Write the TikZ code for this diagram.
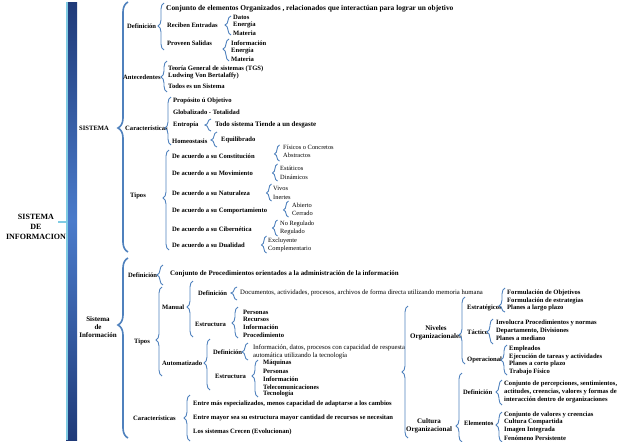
\documentclass[tikz,border=0pt]{standalone}
\usepackage{fontspec}
\setmainfont{Liberation Serif}
\usetikzlibrary{decorations.pathreplacing}
\definecolor{brcblue}{HTML}{4F81BD}
\definecolor{barnavy}{HTML}{1F3A78}
\definecolor{barmid}{HTML}{4A7BCB}
\definecolor{barcyan}{HTML}{7FCBE3}
% brace: hook x, top y, bottom y, tip y (picture units)
\newcommand{\grp}[5][]{%
  \pgfmathsetmacro{\grpasp}{(#4-#5)/(#4-#3)}%
  \draw[brc,decoration={aspect=\grpasp},#1] (#2,#4) -- (#2,#3);}

\begin{document}
\begin{tikzpicture}[x=1pt,y=-1pt,
  brc/.style={draw=brcblue,line width=0.9pt,decorate,decoration={brace,amplitude=6pt}},
  bigbrc/.style={line width=1.6pt,decoration={amplitude=10pt}},
  lbl/.style={anchor=west,inner sep=0pt,font=\fontsize{#1}{8}\selectfont\bfseries},lbl/.default=6.6,
  txt/.style={anchor=west,inner sep=0pt,font=\fontsize{#1}{8}\selectfont},txt/.default=6.4,
  hd/.style={inner sep=0pt,align=center,font=\fontsize{7}{8}\selectfont\bfseries}]
\useasboundingbox (0,0) rectangle (638,442);

% main bar
\shade[top color=barnavy,bottom color=barnavy,middle color=barmid] (66,2) rectangle (77,440);
\fill[barcyan] (66,2) rectangle (67.8,440);
\coordinate (bartip) at (66,222);
\node[hd,font=\fontsize{8}{10}\selectfont\bfseries] (sdi) at (36,227) {SISTEMA\\DE\\INFORMACION};
\draw[barcyan,line width=2pt] (bartip) -- ++(-8,0);

%%% SISTEMA
\node[lbl] (sis) at (79,128) {SISTEMA};
\grp[bigbrc]{128}{2}{252}{128}

\node[lbl] (def1) at (127,26) {Definición};
\grp{164}{3}{50}{26}
\node[lbl=7.4] (conj) at (166,9) {Conjunto de elementos Organizados , relacionados que interactúan para lograr un objetivo};
\node[lbl] (rec) at (167,25) {Reciben Entradas};
\grp{231}{16}{35}{25}
\foreach \y/\t [count=\i] in {17/Datos,25/Energía,33/Materia}
  \node[lbl] (ent\i) at (233,\y) {\t};
\node[lbl] (prov) at (167,43) {Proveen Salidas};
\grp{229}{39}{61}{49}
\foreach \y/\t [count=\i] in {43/Información,51/Energía,59/Materia}
  \node[lbl] (sal\i) at (231,\y) {\t};

\node[lbl] (ant) at (123,77) {Antecedentes};
\grp{167}{61}{92}{77}
\foreach \y/\t [count=\i] in {69/Teoría General de sistemas (TGS),76/Ludwing Von Bertalaffy),86/Todos es un Sistema}
  \node[lbl] (ant\i) at (168,\y) {\t};

\node[lbl] (car) at (125,128) {Características};
\grp{171}{97}{145}{128}
\node[lbl] (car1) at (173,101) {Propósito ú Objetivo};
\node[lbl] (car2) at (173,112) {Globalizado - Totalidad};
\node[lbl] (car3) at (173,125) {Entropía};
\grp{211}{119}{131}{125}
\node[lbl=6.9] (desg) at (215,125) {Todo sistema Tiende a un desgaste};
\node[lbl] (car4) at (172,141) {Homeostasis};
\grp{217}{132}{147}{140}
\node[lbl] (equi) at (221,140) {Equilibrado};

\node[lbl] (tip) at (130,196) {Tipos};
\grp{169}{150}{250}{198}
\foreach \y/\t [count=\i] in {156/Constitución,173/Movimiento,193/Naturaleza,211/Comportamiento,229/Cibernética,245/Dualidad}
  \node[lbl] (tip\i) at (172,\y) {De acuerdo a su \t};
\grp[decoration={amplitude=5pt}]{279.5}{145}{161}{154}
\node[txt] (cons1) at (283,147) {Físicos o Concretos};
\node[txt] (cons2) at (283,155) {Abstractos};
\grp[decoration={amplitude=5pt}]{277.5}{164}{181}{173}
\node[txt] (mov1) at (280,168) {Estáticos};
\node[txt] (mov2) at (280,177) {Dinámicos};
\grp[decoration={amplitude=5pt}]{271.5}{184}{201}{193}
\node[txt] (nat1) at (273,188) {Vivos};
\node[txt] (nat2) at (273,197) {Inertes};
\grp[decoration={amplitude=5pt}]{288.5}{201}{217}{210}
\node[txt] (comp1) at (292,205) {Abierto};
\node[txt] (comp2) at (292,213) {Cerrado};
\grp[decoration={amplitude=5pt}]{277.5}{220}{236}{228}
\node[txt] (cib1) at (280,224) {No Regulado};
\node[txt] (cib2) at (280,232) {Regulado};
\grp[decoration={amplitude=5pt}]{266.5}{236}{253}{245}
\node[txt] (dual1) at (268,241) {Excluyente};
\node[txt] (dual2) at (268,249) {Complementario};

%%% Sistema de Informacion
\node[hd] (sdi2) at (98,327) {Sistema\\de\\Información};
\grp[bigbrc]{128}{258}{438}{325}

\node[lbl] (def2) at (128,275) {Definición};
\grp{163}{265}{285}{275}
\node[lbl=6.9] (proc) at (170,274) {Conjunto de Procedimientos orientados a la administración de la información};

\node[lbl] (tip2) at (134,342) {Tipos};
\grp{162}{287}{376}{340}
\node[lbl] (man) at (162,307) {Manual};
\grp{193}{281}{337}{307}
\node[lbl] (mdef) at (198,293) {Definición};
\grp{237}{287}{300}{293}
\node[txt=6.7] (mdoc) at (240,293) {Documentos, actividades, procesos, archivos de forma directa utilizando memoria humana};
\node[lbl] (mest) at (195,324) {Estructura};
\grp{238}{307}{338}{323}
\foreach \y/\t [count=\i] in {312/Personas,319/Recursos,327/Información,335/Procedimiento}
  \node[lbl] (mest\i) at (243,\y) {\t};

\node[lbl] (aut) at (162,363) {Automatizado};
\grp{210}{339}{390}{363}
\node[lbl] (adef) at (213,352) {Definición};
\grp{248}{343}{360}{352}
\node[txt=6.7,align=left] (adoc) at (253,352) {Información, datos, procesos con capacidad de respuesta\\automática utilizando la tecnología};
\node[lbl] (aest) at (215,376) {Estructura};
\grp{258}{360}{397}{376}
\foreach \y/\t [count=\i] in {363/Máquinas,371/Personas,379/Información,387/Telecomunicaciones,394/Tecnología}
  \node[lbl] (aest\i) at (263,\y) {\t};

\node[lbl] (car5) at (133,418) {Características};
\grp{190}{395}{441}{418}
\foreach \y/\t [count=\i] in {404/{Entre más especializados, menos capacidad de adaptarse a los cambios},418/Entre mayor sea su estructura mayor cantidad de recursos se necesitan,432/Los sistemas Crecen (Evolucionan)}
  \node[lbl] (cr\i) at (193,\y) {\t};

%%% right side
\grp{408}{306}{438}{372}
\node[hd] (niv) at (436,333) {Niveles\\Organizacionales};
\grp{465}{297}{364}{335}
\node[lbl] (est) at (467,308) {Estratégicos};
\grp{505}{288}{312}{306}
\foreach \y/\t [count=\i] in {293/Formulación de Objetivos,301/Formulación de estrategias,308/Planes a largo plazo}
  \node[lbl] (est\i) at (507,\y) {\t};
\node[lbl] (tac) at (467,332) {Táctico};
\grp{493}{319}{344}{332}
\foreach \y/\t [count=\i] in {323/Involucra Procedimientos y normas,331/{Departamento, Divisiones},338/Planes a mediano}
  \node[lbl] (tac\i) at (496,\y) {\t};
\node[lbl] (ope) at (467,360) {Operacional};
\grp{507}{345}{375}{360}
\foreach \y/\t [count=\i] in {349/Empleados,357/Ejecución de tareas y actividades,364/Planes a corto plazo,372/Trabajo Físico}
  \node[lbl] (ope\i) at (509,\y) {\t};

\node[hd] (cul) at (429,426) {Cultura\\Organizacional};
\grp{462}{373}{442}{426}
\node[lbl] (cdef) at (463,392) {Definición};
\grp{502}{380}{405}{392}
\node[lbl,align=left] (cdeft) at (504,392) {Conjunto de percepciones, sentimientos,\\actitudes, creencias, valores y formas de\\interacción dentro de organizaciones};
\node[lbl] (elem) at (464,423) {Elementos};
\grp{502}{412}{442}{425}
\foreach \y/\t [count=\i] in {415/Conjunto de valores y creencias,422/Cultura Compartida,430/Imagen Integrada,438/Fenómeno Persistente}
  \node[lbl] (elem\i) at (504,\y) {\t};
\end{tikzpicture}
\end{document}
